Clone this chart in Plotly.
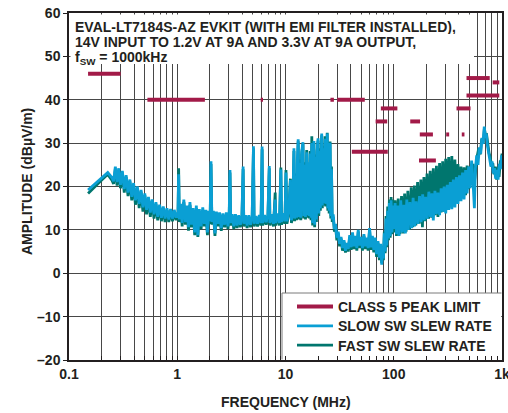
import plotly.graph_objects as go

# ---------------------------------------------------------------------------
# CISPR 25 class 5 peak limit bands: start / stop frequency (MHz), level (dBµV/m)
# ---------------------------------------------------------------------------
limit_start_mhz = [0.15, 0.53, 5.9, 26, 30, 41, 68, 76, 142, 171, 174, 305, 425, 380, 470, 470, 820]
limit_stop_mhz = [0.30, 1.8, 6.2, 28, 54, 88, 87, 108, 175, 245, 230, 325, 450, 512, 770, 944, 944]
limit_dbuv = [46, 40, 40, 40, 40, 28, 35, 38, 35, 26, 32, 32, 32, 38, 45, 41, 44]

# ---------------------------------------------------------------------------
# Measured spectrum, slow switch-node slew rate: (frequency MHz, dBµV/m)
# ---------------------------------------------------------------------------
slow_low_band = [
    (0.150, 19.2), (0.170, 20.4), (0.195, 21.8), (0.228, 23.2), (0.250, 22.0), (0.258, 21.2),
    (0.268, 24.6), (0.278, 21.0), (0.288, 24.2), (0.299, 20.4), (0.311, 23.6), (0.324, 19.4),
    (0.337, 22.6), (0.351, 18.6), (0.365, 21.6), (0.380, 17.6), (0.395, 20.8), (0.411, 16.8),
    (0.428, 20.0), (0.445, 16.0), (0.463, 19.2), (0.482, 15.2), (0.501, 18.4), (0.521, 14.6),
    (0.542, 17.6), (0.564, 14.0), (0.587, 17.0), (0.610, 13.6), (0.635, 16.4), (0.660, 13.0),
    (0.687, 15.8), (0.714, 12.8), (0.743, 15.4), (0.772, 12.6), (0.803, 15.0), (0.835, 12.4),
    (0.868, 14.8), (0.903, 12.6), (0.938, 14.6), (0.975, 12.8), (1.000, 14.0),
]
slow_hf_band = [
    (1.015, 12.8), (1.030, 22.8), (1.045, 12.4), (1.08, 16.0), (1.11, 11.6), (1.15, 17.0),
    (1.19, 11.8), (1.23, 15.6), (1.27, 10.6), (1.31, 16.4), (1.35, 11.2), (1.40, 15.0),
    (1.45, 9.4), (1.50, 15.6), (1.55, 8.8), (1.60, 14.8), (1.66, 10.8), (1.72, 15.2),
    (1.78, 11.4), (1.84, 14.6), (1.90, 9.4), (1.96, 14.4), (2.01, 12.0), (2.05, 25.8),
    (2.09, 11.8), (2.16, 14.4), (2.23, 9.2), (2.30, 14.2), (2.38, 11.4), (2.46, 14.0),
    (2.55, 10.4), (2.64, 13.8), (2.74, 11.2), (2.84, 14.0), (2.94, 10.8), (3.02, 13.8),
    (3.07, 23.8), (3.12, 11.6), (3.22, 13.6), (3.33, 10.8), (3.45, 13.6), (3.57, 11.0),
    (3.70, 13.4), (3.83, 11.2), (3.96, 13.4), (4.06, 24.6), (4.12, 11.4), (4.27, 13.4),
    (4.42, 11.0), (4.58, 13.4), (4.75, 11.2), (4.92, 13.2), (5.06, 29.3), (5.13, 11.4),
    (5.32, 13.2), (5.52, 11.4), (5.73, 13.4), (5.94, 11.6), (6.08, 29.2), (6.16, 11.6),
    (6.40, 13.4), (6.64, 11.8), (6.88, 13.4), (7.08, 24.7), (7.18, 11.6), (7.46, 13.6),
    (7.74, 11.4), (8.03, 17.0), (8.14, 11.6), (8.46, 13.8), (8.80, 11.6), (9.06, 23.9),
    (9.20, 11.8), (9.55, 13.8), (9.88, 12.0), (10.1, 23.2), (10.3, 12.0), (10.7, 14.0),
    (11.1, 21.5), (11.35, 12.2), (11.65, 14.2),
]
slow_harmonic_cluster = [
    (11.97, 28.8), (12.15, 12.6), (12.4, 22.4), (12.65, 12.8), (12.85, 26.0), (13.1, 30.9),
    (13.35, 13.0), (13.6, 25.4), (13.85, 12.8), (14.1, 28.0), (14.5, 30.2), (14.75, 13.2),
    (15.0, 25.0), (15.3, 13.0), (15.7, 27.9), (15.95, 13.4), (16.3, 25.6), (16.6, 13.2),
    (16.9, 27.6), (17.2, 12.8), (17.5, 30.0), (17.8, 11.6), (18.3, 30.5), (18.6, 11.2),
    (18.9, 26.8), (19.3, 12.4), (19.6, 28.4), (20.0, 31.1), (20.3, 13.8), (20.7, 28.2),
    (21.0, 15.0), (21.6, 32.2), (21.9, 15.6), (22.2, 28.8), (22.5, 16.2), (22.85, 30.4),
    (23.2, 31.0), (23.5, 16.0), (23.9, 29.6), (24.3, 32.2), (24.6, 15.0), (25.0, 29.2),
    (25.3, 14.4), (25.8, 30.1), (26.2, 13.2), (26.6, 24.0), (27.0, 12.4),
]
slow_vhf_band = [
    (27.6, 13.6), (28.3, 10.2), (29.0, 11.4), (29.8, 8.2), (30.7, 9.6), (31.6, 6.8),
    (32.6, 8.4), (33.6, 5.8), (34.7, 7.6), (35.8, 5.2), (36.9, 7.0), (38.0, 5.6),
    (39.2, 8.8), (40.4, 6.0), (41.6, 9.4), (42.9, 6.2), (44.2, 8.6), (45.6, 5.8),
    (47.0, 10.0), (48.4, 6.4), (49.9, 8.4), (51.4, 5.8), (53.0, 9.0), (54.6, 6.2),
    (56.3, 8.2), (58.0, 5.8), (59.8, 10.4), (61.6, 6.0), (63.5, 8.6), (65.4, 5.4),
    (67.4, 8.2), (69.4, 4.4), (71.5, 7.4), (73.7, 3.6), (75.9, 6.8), (77.4, 2.0),
    (78.8, 6.2), (80.3, 3.4), (81.8, 9.2), (83.3, 5.0), (84.8, 12.6), (86.3, 6.4),
    (87.9, 14.4), (89.5, 8.0), (91.1, 16.2), (92.8, 8.6), (94.5, 16.8), (96.2, 9.4),
    (98.0, 15.6),
]
slow_uhf_band = [
    (100, 10.2), (103, 16.2), (106, 9.0), (109, 15.6), (112, 8.6), (116, 16.8), (120, 9.4),
    (124, 15.8), (128, 9.2), (132, 17.0), (136, 10.0), (141, 16.4), (146, 10.4), (151, 17.4),
    (156, 10.8), (161, 16.6), (167, 11.4), (173, 17.8), (179, 11.8), (185, 18.2), (191, 12.2),
    (197, 17.6), (204, 12.6), (211, 18.8), (218, 13.0), (225, 18.4), (232, 12.2), (240, 19.0),
    (248, 13.6), (256, 18.6), (265, 13.4), (274, 19.6), (283, 14.2), (292, 20.0), (302, 13.8),
    (312, 20.4), (322, 14.6), (333, 21.0), (344, 14.8), (355, 21.6), (367, 15.2), (379, 22.2),
    (392, 16.0), (405, 22.6), (418, 16.6), (432, 23.2), (446, 17.0), (461, 23.8), (476, 18.4),
    (492, 24.6), (508, 19.6), (524, 26.0), (540, 21.0), (556, 15.0), (568, 24.2), (584, 27.2),
    (600, 25.0), (618, 29.0), (636, 27.6), (652, 31.2), (668, 29.8), (686, 33.8), (700, 31.2),
    (716, 32.2), (732, 29.6), (750, 28.0), (770, 26.4), (790, 24.6), (810, 25.8), (830, 23.0),
    (852, 24.2), (874, 21.8), (898, 23.8), (920, 21.6), (944, 25.2), (968, 24.0), (990, 27.2),
    (1000, 26.0),
]

# ---------------------------------------------------------------------------
# Measured spectrum, fast switch-node slew rate: (frequency MHz, dBµV/m)
# ---------------------------------------------------------------------------
fast_low_band = [
    (0.150, 18.4), (0.170, 19.8), (0.195, 21.2), (0.228, 22.8), (0.250, 21.4), (0.258, 20.6),
    (0.268, 24.0), (0.278, 20.2), (0.288, 23.8), (0.299, 19.6), (0.311, 23.2), (0.324, 18.6),
    (0.337, 22.2), (0.351, 17.8), (0.365, 21.2), (0.380, 16.8), (0.395, 20.4), (0.411, 15.8),
    (0.428, 19.6), (0.445, 15.0), (0.463, 18.8), (0.482, 14.2), (0.501, 18.0), (0.521, 13.6),
    (0.542, 17.2), (0.564, 13.0), (0.587, 16.6), (0.610, 12.6), (0.635, 16.0), (0.660, 12.2),
    (0.687, 15.4), (0.714, 12.0), (0.743, 15.0), (0.772, 11.8), (0.803, 14.6), (0.835, 11.8),
    (0.868, 14.4), (0.903, 12.0), (0.938, 14.2), (0.975, 12.2), (1.000, 13.6),
]
fast_hf_band = [
    (1.015, 12.2), (1.030, 24.2), (1.045, 11.8), (1.08, 15.4), (1.11, 10.8), (1.15, 16.4),
    (1.19, 11.2), (1.23, 15.0), (1.27, 9.8), (1.31, 15.8), (1.35, 10.6), (1.40, 14.4),
    (1.45, 8.8), (1.50, 15.0), (1.55, 8.4), (1.60, 14.2), (1.66, 10.2), (1.72, 14.6),
    (1.78, 10.8), (1.84, 14.0), (1.90, 8.8), (1.96, 13.8), (2.01, 11.4), (2.05, 25.2),
    (2.09, 11.2), (2.16, 13.8), (2.23, 8.6), (2.30, 13.6), (2.38, 10.8), (2.46, 13.4),
    (2.55, 9.8), (2.64, 13.2), (2.74, 10.6), (2.84, 13.4), (2.94, 10.2), (3.02, 13.2),
    (3.07, 23.2), (3.12, 11.0), (3.22, 13.0), (3.33, 10.2), (3.45, 13.0), (3.57, 10.4),
    (3.70, 12.8), (3.83, 10.6), (3.96, 12.8), (4.06, 24.0), (4.12, 10.8), (4.27, 12.8),
    (4.42, 10.4), (4.58, 12.8), (4.75, 10.6), (4.92, 12.6), (5.06, 28.8), (5.13, 10.8),
    (5.32, 12.6), (5.52, 10.8), (5.73, 12.8), (5.94, 11.0), (6.08, 28.6), (6.16, 11.0),
    (6.40, 12.8), (6.64, 11.2), (6.88, 12.8), (7.08, 24.2), (7.18, 11.0), (7.46, 13.0),
    (7.74, 10.8), (8.03, 18.6), (8.14, 11.0), (8.46, 13.2), (8.80, 11.0), (9.06, 24.4),
    (9.20, 11.2), (9.55, 13.2), (9.88, 11.4), (10.1, 23.8), (10.3, 11.4), (10.7, 13.4),
    (11.1, 21.8), (11.35, 11.6), (11.65, 13.6),
]
fast_harmonic_cluster = [
    (11.97, 28.2), (12.15, 12.0), (12.4, 23.0), (12.65, 12.2), (12.85, 25.4), (13.1, 30.4),
    (13.35, 12.4), (13.6, 26.2), (13.85, 12.2), (14.1, 27.4), (14.5, 29.8), (14.75, 12.6),
    (15.0, 25.6), (15.3, 12.4), (15.7, 28.4), (15.95, 12.8), (16.3, 25.0), (16.6, 12.6),
    (16.9, 28.2), (17.2, 12.2), (17.5, 31.6), (17.8, 11.0), (18.3, 30.0), (18.6, 10.6),
    (18.9, 27.4), (19.3, 11.8), (19.6, 28.0), (20.0, 30.6), (20.3, 13.2), (20.7, 28.8),
    (21.0, 14.4), (21.6, 31.8), (21.9, 15.0), (22.2, 29.4), (22.5, 15.6), (22.85, 30.0),
    (23.2, 31.6), (23.5, 15.4), (23.9, 29.0), (24.3, 32.4), (24.6, 14.4), (25.0, 29.8),
    (25.3, 13.8), (25.8, 30.4), (26.2, 12.6), (26.6, 24.6), (27.0, 11.8),
]
fast_vhf_band = [
    (27.6, 13.0), (28.3, 9.6), (29.0, 10.8), (29.8, 7.6), (30.7, 9.2), (31.6, 6.2),
    (32.6, 8.0), (33.6, 5.2), (34.7, 7.2), (35.8, 4.8), (36.9, 6.6), (38.0, 5.0),
    (39.2, 8.4), (40.4, 5.4), (41.6, 9.0), (42.9, 5.6), (44.2, 8.2), (45.6, 5.2),
    (47.0, 9.6), (48.4, 5.8), (49.9, 8.0), (51.4, 5.2), (53.0, 8.6), (54.6, 5.6),
    (56.3, 7.8), (58.0, 5.2), (59.8, 10.0), (61.6, 5.4), (63.5, 8.2), (65.4, 4.8),
    (67.4, 7.8), (69.4, 3.8), (71.5, 7.0), (73.7, 3.0), (75.9, 6.4), (77.4, 2.4),
    (78.8, 5.8), (80.3, 3.0), (81.8, 9.6), (83.3, 4.6), (84.8, 13.2), (86.3, 6.0),
    (87.9, 15.4), (89.5, 7.6), (91.1, 17.0), (92.8, 8.2), (94.5, 17.6), (96.2, 9.0),
    (98.0, 17.0),
]
fast_uhf_band = [
    (100, 9.4), (103, 16.8), (106, 8.6), (110, 17.2), (114, 9.0), (118, 17.8), (122, 9.2),
    (126, 18.4), (130, 9.6), (135, 19.0), (140, 10.0), (145, 19.8), (150, 10.6), (155, 20.2),
    (160, 11.0), (166, 21.0), (172, 11.4), (178, 21.6), (184, 10.6), (190, 22.2), (196, 12.0),
    (203, 23.0), (210, 12.6), (217, 23.6), (224, 12.8), (232, 24.2), (240, 13.4), (248, 24.8),
    (256, 13.0), (265, 25.4), (274, 14.0), (283, 25.8), (292, 14.2), (302, 26.4), (312, 14.6),
    (322, 26.8), (333, 15.2), (344, 27.0), (355, 15.6), (367, 26.2), (379, 16.4), (392, 25.2),
    (405, 16.8), (418, 24.6), (432, 17.6), (446, 24.4), (461, 18.0), (476, 24.8), (492, 19.4),
    (508, 24.6), (524, 20.4), (540, 25.2), (556, 21.0), (572, 24.6), (590, 27.0), (610, 28.8),
    (630, 27.4), (650, 31.0), (670, 30.0), (688, 33.4), (705, 31.6), (722, 31.8), (740, 29.4),
    (760, 27.6), (780, 26.8), (800, 24.6), (822, 25.4), (845, 22.8), (868, 24.6), (892, 21.6),
    (916, 24.4), (940, 22.2), (965, 26.0), (985, 24.8), (1000, 27.6),
]

# Axis ticks
decade_ticks = [0.1, 1, 10, 100, 1000]
decade_labels = ["0.1", "1", "10", "100", "1k"]
amp_ticks = [-20, -10, 0, 10, 20, 30, 40, 50, 60]
amp_labels = ["–20", "–10", "0", "10", "20", "30", "40", "50", "60"]

# Colours
LIMIT_COLOR = "#a21a48"
SLOW_COLOR = "#0a9fd4"
FAST_COLOR = "#00766e"
INK = "#231f20"
GRID = "#474747"
BOX_EDGE = "#7a7a7a"


def unzip(*bands):
    freq, amp = [], []
    for band in bands:
        for f, a in band:
            freq.append(f)
            amp.append(a)
    return freq, amp


slow_f, slow_a = unzip(slow_low_band, slow_hf_band, slow_harmonic_cluster, slow_vhf_band, slow_uhf_band)
fast_f, fast_a = unzip(fast_low_band, fast_hf_band, fast_harmonic_cluster, fast_vhf_band, fast_uhf_band)

# limit bands as one broken line
lim_x, lim_y = [], []
for f0, f1, lvl in zip(limit_start_mhz, limit_stop_mhz, limit_dbuv):
    lim_x += [f0, f1, None]
    lim_y += [lvl, lvl, None]

minor_ticks = [m * d for d in decade_ticks[:-1] for m in range(2, 10)]

fig = go.Figure()
fig.add_trace(go.Scatter(x=fast_f, y=fast_a, mode="lines", name="FAST SW SLEW RATE",
                         line=dict(color=FAST_COLOR, width=2.8), legend="legend3"))
fig.add_trace(go.Scatter(x=slow_f, y=slow_a, mode="lines", name="SLOW SW SLEW RATE",
                         line=dict(color=SLOW_COLOR, width=2.8), legend="legend2"))
fig.add_trace(go.Scatter(x=lim_x, y=lim_y, mode="lines", name="CLASS 5 PEAK LIMIT",
                         line=dict(color=LIMIT_COLOR, width=4), connectgaps=False, legend="legend"))

PLOT_L, PLOT_R, PLOT_T, PLOT_B = 69, 502, 13, 360
W, H = 508, 413
pw, ph = PLOT_R - PLOT_L, PLOT_B - PLOT_T


def px(x):
    return (x - PLOT_L) / pw


def py(y):
    return (PLOT_B - y) / ph


font_main = dict(family="Liberation Sans, Arial, sans-serif", size=14, color=INK, weight="bold")


def legend_row(top_px):
    return dict(x=px(292), y=py(top_px), xanchor="left", yanchor="top",
                bgcolor="rgba(0,0,0,0)", borderwidth=0, font=font_main, itemwidth=36)


fig.update_layout(
    width=W, height=H,
    margin=dict(l=PLOT_L, r=W - PLOT_R, t=PLOT_T, b=H - PLOT_B, autoexpand=False),
    paper_bgcolor="white", plot_bgcolor="white",
    font=font_main,
    showlegend=True,
    legend=legend_row(291),
    legend2=legend_row(310.3),
    legend3=legend_row(329.5),
    xaxis=dict(type="log", range=[-1, 3], tickvals=decade_ticks, ticktext=decade_labels,
               ticks="inside", ticklen=4, tickcolor=INK, tickfont=font_main, automargin=False,
               ticklabeloverflow="allow",
               showgrid=True, gridcolor=GRID, gridwidth=1,
               minor=dict(tickvals=minor_ticks, ticks="inside", ticklen=4, tickcolor=INK,
                          showgrid=True, gridcolor=GRID, gridwidth=1),
               showline=True, linecolor=INK, linewidth=1.5, mirror=True, zeroline=False),
    yaxis=dict(range=[-20, 60], tickvals=amp_ticks, ticktext=amp_labels,
               ticks="outside", ticklen=4, tickcolor=INK, tickfont=font_main, automargin=False,
               showgrid=True, gridcolor=GRID, gridwidth=1,
               showline=True, linecolor=INK, linewidth=1.5, mirror=True, zeroline=False),
)

# white panel behind the heading
fig.add_shape(type="rect", xref="paper", yref="paper", layer="above",
              x0=px(70.5), x1=px(474), y0=py(64), y1=py(14.5),
              fillcolor="white", line=dict(width=0))
# white panel behind the legend (grid stubs stay visible along the bottom edge)
fig.add_shape(type="rect", xref="paper", yref="paper", layer="above",
              x0=px(282), x1=px(501.2), y0=py(356), y1=py(293),
              fillcolor="white", line=dict(width=0))
fig.add_shape(type="path", xref="paper", yref="paper", layer="above",
              path=f"M{px(282)},{py(359.5)} L{px(282)},{py(293)} L{px(501.5)},{py(293)}",
              line=dict(color=BOX_EDGE, width=1))

# heading: three tightly spaced lines (top edge in px, fixed box height or None)
heading = [
    ("EVAL-LT7184S-AZ EVKIT (WITH EMI FILTER INSTALLED),", 17.5, 15),
    ("14V INPUT TO 1.2V AT 9A AND 3.3V AT 9A OUTPUT,", 32.7, 15),
    ("f<sub>SW</sub> = 1000kHz", 48.0, None),
]
for text, ytop, box_h in heading:
    fig.add_annotation(text=text, xref="paper", yref="paper", x=px(74), y=py(ytop),
                       xanchor="left", yanchor="top", showarrow=False, font=font_main,
                       borderpad=0, height=box_h, valign="middle")

fig.add_annotation(text="FREQUENCY (MHz)", xref="paper", yref="paper",
                   x=px(285.5), y=py(401.5), xanchor="center", yanchor="middle",
                   showarrow=False, font=font_main)
fig.add_annotation(text="AMPLITUDE (dBµV/m)", xref="paper", yref="paper",
                   x=px(27), y=py(182), xanchor="center", yanchor="middle",
                   textangle=-90, showarrow=False, font=font_main)

fig.write_html("out.html")
